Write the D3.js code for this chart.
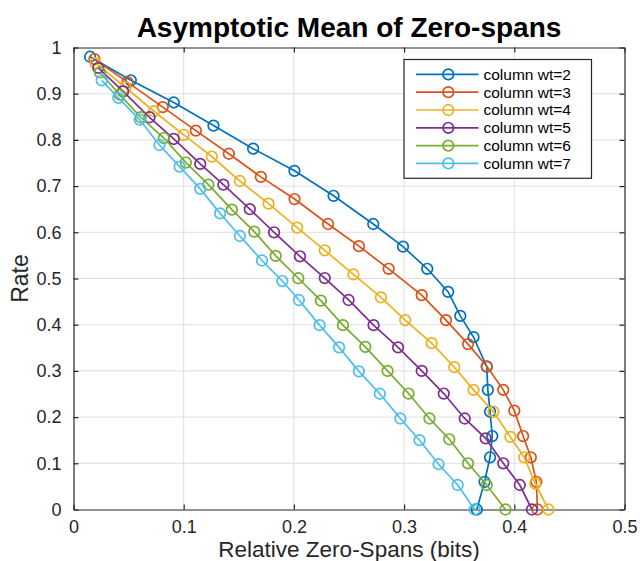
<!DOCTYPE html>
<html>
<head>
<meta charset="utf-8">
<script src="https://cdn.jsdelivr.net/npm/d3@7"></script>
<style>
  html, body { margin: 0; padding: 0; background: #fff; }
  svg { display: block; font-family: "Liberation Sans", Arial, Helvetica, sans-serif; }
</style>
</head>
<body>
<svg id="chart" width="640" height="561"></svg>
<script>
// Relative zero-span (bits) and rate for each column weight
const spanWt2 = [0.015, 0.052, 0.091, 0.127, 0.163, 0.2005, 0.236, 0.272, 0.299, 0.321, 0.340, 0.351, 0.363, 0.375, 0.376, 0.378, 0.380, 0.378, 0.373, 0.366];
const rateWt2 = [0.980, 0.929, 0.881, 0.831, 0.781, 0.733, 0.679, 0.618, 0.569, 0.521, 0.471, 0.419, 0.373, 0.309, 0.259, 0.212, 0.159, 0.113, 0.060, 0.000];

const spanWt3 = [0.019, 0.049, 0.081, 0.111, 0.141, 0.170, 0.2006, 0.231, 0.259, 0.286, 0.316, 0.338, 0.358, 0.375, 0.390, 0.400, 0.408, 0.415, 0.420, 0.421];
const rateWt3 = [0.975, 0.925, 0.871, 0.820, 0.770, 0.720, 0.672, 0.618, 0.570, 0.521, 0.464, 0.410, 0.358, 0.310, 0.259, 0.214, 0.159, 0.113, 0.060, 0.000];

const spanWt4 = [0.020, 0.047, 0.073, 0.100, 0.1255, 0.151, 0.177, 0.203, 0.228, 0.254, 0.279, 0.301, 0.325, 0.3456, 0.363, 0.381, 0.3965, 0.409, 0.419, 0.431];
const rateWt4 = [0.966, 0.914, 0.862, 0.811, 0.764, 0.711, 0.662, 0.610, 0.561, 0.509, 0.459, 0.410, 0.360, 0.308, 0.259, 0.212, 0.157, 0.113, 0.056, 0.000];

const spanWt5 = [0.0225, 0.045, 0.069, 0.091, 0.115, 0.136, 0.160, 0.182, 0.2055, 0.228, 0.2496, 0.2723, 0.2945, 0.316, 0.336, 0.355, 0.374, 0.390, 0.405, 0.416];
const rateWt5 = [0.956, 0.905, 0.849, 0.802, 0.748, 0.703, 0.650, 0.600, 0.548, 0.501, 0.4535, 0.399, 0.351, 0.300, 0.251, 0.197, 0.154, 0.100, 0.053, 0.000];

const spanWt6 = [0.024, 0.042, 0.061, 0.082, 0.102, 0.1224, 0.1437, 0.164, 0.1835, 0.204, 0.2245, 0.2445, 0.2648, 0.285, 0.304, 0.323, 0.341, 0.358, 0.375, 0.392];
const rateWt6 = [0.946, 0.898, 0.849, 0.804, 0.751, 0.703, 0.649, 0.6015, 0.549, 0.5005, 0.452, 0.399, 0.352, 0.300, 0.251, 0.197, 0.152, 0.100, 0.053, 0.000];

const spanWt7 = [0.0256, 0.0407, 0.060, 0.078, 0.0963, 0.115, 0.133, 0.151, 0.171, 0.1895, 0.2045, 0.2233, 0.241, 0.259, 0.278, 0.2966, 0.314, 0.3313, 0.3486, 0.364];
const rateWt7 = [0.929, 0.891, 0.844, 0.789, 0.742, 0.694, 0.641, 0.592, 0.539, 0.4945, 0.4535, 0.399, 0.351, 0.299, 0.2505, 0.197, 0.150, 0.098, 0.053, 0.000];

const seriesLabels = ["column wt=2", "column wt=3", "column wt=4", "column wt=5", "column wt=6", "column wt=7"];
const seriesColors = ["#0072BD", "#D95319", "#EDB120", "#7E2F8E", "#77AC30", "#4DBEEE"];
const xTicks = [0, 0.1, 0.2, 0.3, 0.4, 0.5];
const yTicks = [0, 0.1, 0.2, 0.3, 0.4, 0.5, 0.6, 0.7, 0.8, 0.9, 1];

const spans = [spanWt2, spanWt3, spanWt4, spanWt5, spanWt6, spanWt7];
const rates = [rateWt2, rateWt3, rateWt4, rateWt5, rateWt6, rateWt7];
const series = seriesLabels.map((label, i) => ({
  label,
  color: seriesColors[i],
  points: spans[i].map((s, j) => ({ x: s, y: rates[i][j] }))
}));

const svg = d3.select("#chart");
const plotLeft = 73.5, plotRight = 624.5, plotTop = 47.5, plotBottom = 509.5;
const axisColor = "#262626";

const x = d3.scaleLinear().domain([0, 0.5]).range([plotLeft, plotRight]);
const y = d3.scaleLinear().domain([0, 1]).range([plotBottom, plotTop]);

svg.append("rect").attr("width", 640).attr("height", 561).attr("fill", "#fff");

// grid
const grid = svg.append("g").attr("stroke", "#dfdfdf").attr("stroke-width", 1);
grid.selectAll(".gx").data(xTicks.slice(1, -1)).join("line")
  .attr("x1", d => x(d)).attr("x2", d => x(d)).attr("y1", plotTop).attr("y2", plotBottom);
grid.selectAll(".gy").data(yTicks.slice(1, -1)).join("line")
  .attr("y1", d => y(d)).attr("y2", d => y(d)).attr("x1", plotLeft).attr("x2", plotRight);

// axes with inward ticks on all four sides
const fmt = d3.format("");
const bottomAxis = d3.axisBottom(x).tickValues(xTicks).tickFormat(fmt).tickSizeInner(-5).tickSizeOuter(0).tickPadding(11);
const leftAxis = d3.axisLeft(y).tickValues(yTicks).tickFormat(fmt).tickSizeInner(-5).tickSizeOuter(0).tickPadding(12);
const topAxis = d3.axisTop(x).tickValues(xTicks).tickFormat("").tickSizeInner(-5).tickSizeOuter(0);
const rightAxis = d3.axisRight(y).tickValues(yTicks).tickFormat("").tickSizeInner(-5).tickSizeOuter(0);

function styleAxis(g) {
  g.select(".domain").attr("stroke", axisColor).attr("stroke-width", 1.2);
  g.selectAll(".tick line").attr("stroke", axisColor).attr("stroke-width", 1.2);
  g.selectAll(".tick text").attr("fill", axisColor).attr("font-size", 18)
    .attr("font-family", "Liberation Sans, Arial, sans-serif");
}
svg.append("g").attr("transform", `translate(0,${plotBottom})`).call(bottomAxis).call(styleAxis);
svg.append("g").attr("transform", `translate(${plotLeft},0)`).call(leftAxis).call(styleAxis);
svg.append("g").attr("transform", `translate(0,${plotTop})`).call(topAxis).call(styleAxis);
svg.append("g").attr("transform", `translate(${plotRight},0)`).call(rightAxis).call(styleAxis);

// series
const line = d3.line().x(d => x(d.x)).y(d => y(d.y));
const plot = svg.append("g");
series.forEach(s => {
  const g = plot.append("g");
  g.append("path").datum(s.points).attr("d", line)
    .attr("fill", "none").attr("stroke", s.color).attr("stroke-width", 1.7);
  g.selectAll("circle").data(s.points).join("circle")
    .attr("cx", d => x(d.x)).attr("cy", d => y(d.y)).attr("r", 5.3)
    .attr("fill", "none").attr("stroke", s.color).attr("stroke-width", 1.7);
});

// title and axis labels
svg.append("text").attr("x", (plotLeft + plotRight) / 2).attr("y", 36.5)
  .attr("text-anchor", "middle").attr("font-size", 28).attr("font-weight", "bold")
  .attr("fill", "#000").text("Asymptotic Mean of Zero-spans");
svg.append("text").attr("x", (plotLeft + plotRight) / 2).attr("y", 557)
  .attr("text-anchor", "middle").attr("font-size", 22.5).attr("fill", axisColor)
  .text("Relative Zero-Spans (bits)");
svg.append("text").attr("transform", `translate(28,${(plotTop + plotBottom) / 2}) rotate(-90)`)
  .attr("text-anchor", "middle").attr("font-size", 23).attr("fill", axisColor)
  .text("Rate");

// legend
const lgX = 404, lgY = 59.5, lgW = 187.5, rowH = 17.8;
const lgH = 12 + series.length * rowH;
const legend = svg.append("g");
legend.append("rect").attr("x", lgX).attr("y", lgY).attr("width", lgW).attr("height", lgH)
  .attr("fill", "#fff").attr("stroke", axisColor).attr("stroke-width", 1.2);
series.forEach((s, i) => {
  const cy = lgY + 6 + rowH / 2 + i * rowH;
  legend.append("line").attr("x1", lgX + 12).attr("x2", lgX + 74.5).attr("y1", cy).attr("y2", cy)
    .attr("stroke", s.color).attr("stroke-width", 1.7);
  legend.append("circle").attr("cx", lgX + 44.3).attr("cy", cy).attr("r", 5.3)
    .attr("fill", "none").attr("stroke", s.color).attr("stroke-width", 1.7);
  legend.append("text").attr("x", lgX + 79.5).attr("y", cy).attr("dy", "0.35em")
    .attr("font-size", 15.5).attr("fill", "#000").text(s.label);
});
</script>
</body>
</html>
